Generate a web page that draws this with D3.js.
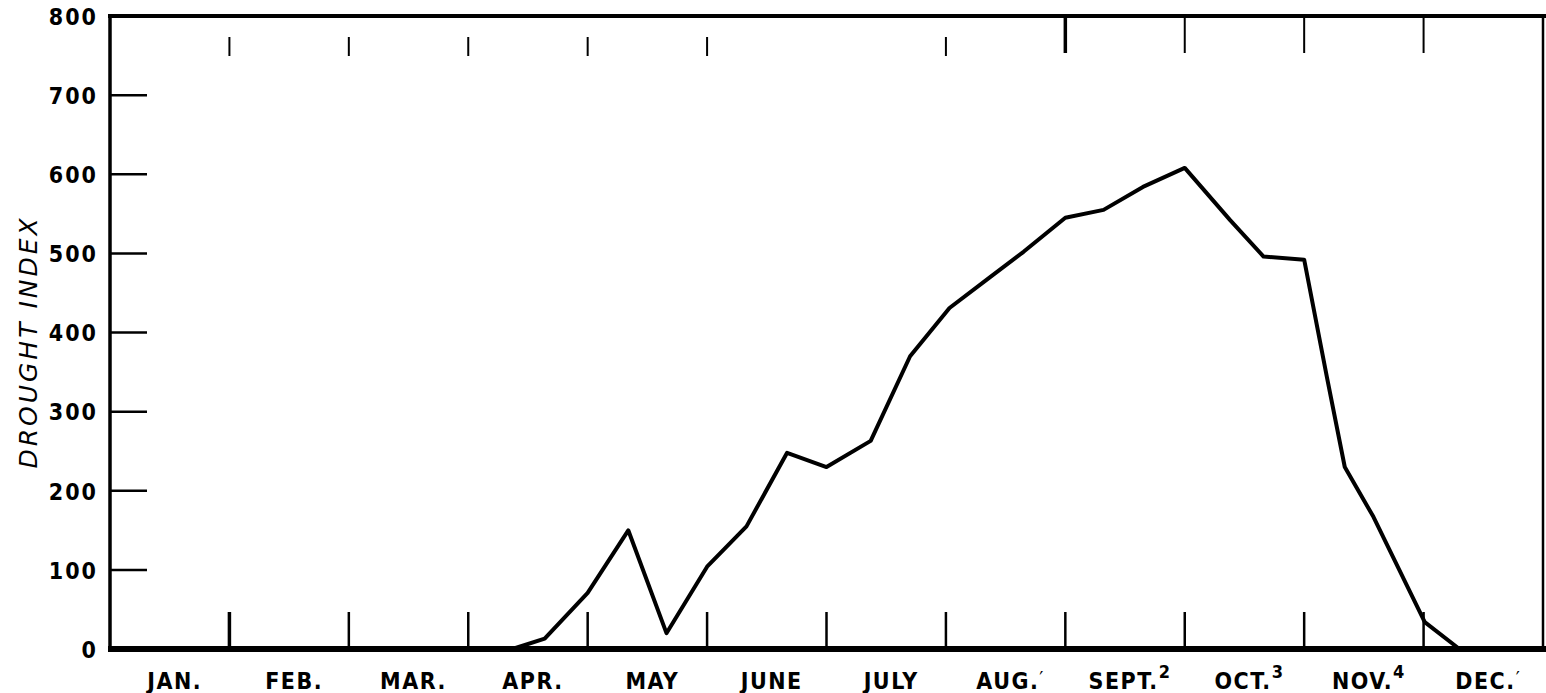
<!DOCTYPE html>
<html>
<head>
<meta charset="utf-8">
<script src="https://cdn.jsdelivr.net/npm/d3@7"></script>
<style>
  body { margin: 0; background: #fff; }
  svg { display: block; }
  text { font-family: "DejaVu Sans", sans-serif; fill: #000; }
</style>
</head>
<body>
<div id="chart"></div>
<script>
// month labels (sup = footnote mark)
var monthNames = ["JAN.", "FEB.", "MAR.", "APR.", "MAY", "JUNE", "JULY", "AUG.", "SEPT.", "OCT.", "NOV.", "DEC."];
var monthSups  = ["", "", "", "", "", "", "", "\u2032", "2", "3", "4", "\u2032"];
var yTicks = [0, 100, 200, 300, 400, 500, 600, 700, 800];
// month boundaries that get a tick at the top border
var topTicks = [1, 2, 3, 4, 5, 7, 8, 9, 10, 11];
// drought index, position in months from Jan 1
var periodPos = [0, 3.37, 3.64, 4.0, 4.34, 4.66, 5.0, 5.33, 5.67, 6.0, 6.37, 6.70, 7.03, 7.37, 7.65, 8.0, 8.32, 8.65, 9.0, 9.38, 9.66, 10.0, 10.19, 10.34, 10.58, 11.01, 11.3, 12];
var droughtIndex = [0, 0, 13, 71, 150, 20, 104, 155, 248, 230, 263, 370, 431, 470, 502, 545, 555, 584, 608, 542, 496, 492, 344, 230, 167, 34, 0, 0];

var W = 1546, H = 693;
var pL = 110, pR = 1543, pT = 16, pB = 649;

var svg = d3.select("#chart").append("svg")
  .attr("width", W)
  .attr("height", H);

var x = d3.scaleLinear().domain([0, 12]).range([pL, pR]);
var y = d3.scaleLinear().domain([0, 800]).range([pB, pT]);

// frame
svg.append("line").attr("x1", pL - 2).attr("x2", W).attr("y1", pT).attr("y2", pT)
  .attr("stroke", "#000").attr("stroke-width", 4);
svg.append("line").attr("x1", pL).attr("x2", pL).attr("y1", pT - 2).attr("y2", pB)
  .attr("stroke", "#000").attr("stroke-width", 3.5);
svg.append("line").attr("x1", pR).attr("x2", pR).attr("y1", pT).attr("y2", pB)
  .attr("stroke", "#000").attr("stroke-width", 2.5);

// y tick marks
svg.selectAll(".ytick").data(yTicks.filter(function(d) { return d > 0 && d < 800; }))
  .enter().append("line")
  .attr("x1", pL).attr("x2", pL + 37)
  .attr("y1", function(d) { return y(d); }).attr("y2", function(d) { return y(d); })
  .attr("stroke", "#000").attr("stroke-width", 2.5);

// y labels
var yAxis = svg.append("g")
  .attr("transform", "translate(" + (pL - 12) + ",0)")
  .call(d3.axisLeft(y).tickValues(yTicks).tickSize(0).tickPadding(0));
yAxis.select(".domain").remove();
yAxis.selectAll("text")
  .style("font-family", "DejaVu Sans Condensed, DejaVu Sans, sans-serif")
  .style("font-size", "23px")
  .style("font-weight", "bold")
  .style("letter-spacing", "2px")
  .attr("fill", "#000")
  .attr("dy", "0.36em");

// y title
svg.append("text")
  .attr("transform", "translate(37,342) rotate(-90)")
  .attr("text-anchor", "middle")
  .style("font-size", "25px")
  .style("font-style", "italic")
  .style("letter-spacing", "3px")
  .text("DROUGHT INDEX");

// bottom month ticks
svg.selectAll(".mtick").data(d3.range(1, 12))
  .enter().append("line")
  .attr("x1", function(d) { return x(d); }).attr("x2", function(d) { return x(d); })
  .attr("y1", pB - 37).attr("y2", pB)
  .attr("stroke", "#000").attr("stroke-width", function(d) { return d == 1 ? 3.5 : 2.5; });

// top month ticks
svg.selectAll(".ttick").data(topTicks)
  .enter().append("line")
  .attr("x1", function(d) { return x(d); }).attr("x2", function(d) { return x(d); })
  .attr("y1", function(d) { return d >= 8 ? pT : 37; })
  .attr("y2", function(d) { return d >= 8 ? 53 : 56; })
  .attr("stroke", "#000").attr("stroke-width", function(d) { return d == 8 ? 3.5 : 2; });

// the curve
var pts = periodPos.map(function(p, i) { return { m: p, v: droughtIndex[i] }; });
var line = d3.line()
  .x(function(d) { return x(d.m); })
  .y(function(d) { return y(d.v); });
svg.append("path")
  .datum(pts)
  .attr("d", line)
  .attr("fill", "none")
  .attr("stroke", "#000")
  .attr("stroke-width", 4)
  .attr("stroke-linejoin", "round");

// x axis (thick base line)
svg.append("line").attr("x1", pL - 2).attr("x2", W).attr("y1", pB).attr("y2", pB)
  .attr("stroke", "#000").attr("stroke-width", 6);

// month labels
var ml = svg.selectAll(".mlab").data(monthNames)
  .enter().append("text")
  .attr("x", function(d, i) { return x(i + 0.5) + 5; })
  .attr("y", 689)
  .attr("text-anchor", "middle")
  .style("font-family", "DejaVu Sans Condensed, DejaVu Sans, sans-serif")
  .style("font-size", "23px")
  .style("font-weight", "bold")
  .style("letter-spacing", "1.5px");
ml.append("tspan").text(function(d) { return d; });
ml.append("tspan")
  .attr("dy", function(d, i) { return monthSups[i] == "\u2032" ? -4 : -11; })
  .style("font-size", function(d, i) { return monthSups[i] == "\u2032" ? "20px" : "18px"; })
  .style("font-weight", function(d, i) { return monthSups[i] == "\u2032" ? "normal" : "bold"; })
  .text(function(d, i) { return monthSups[i]; });
</script>
</body>
</html>
